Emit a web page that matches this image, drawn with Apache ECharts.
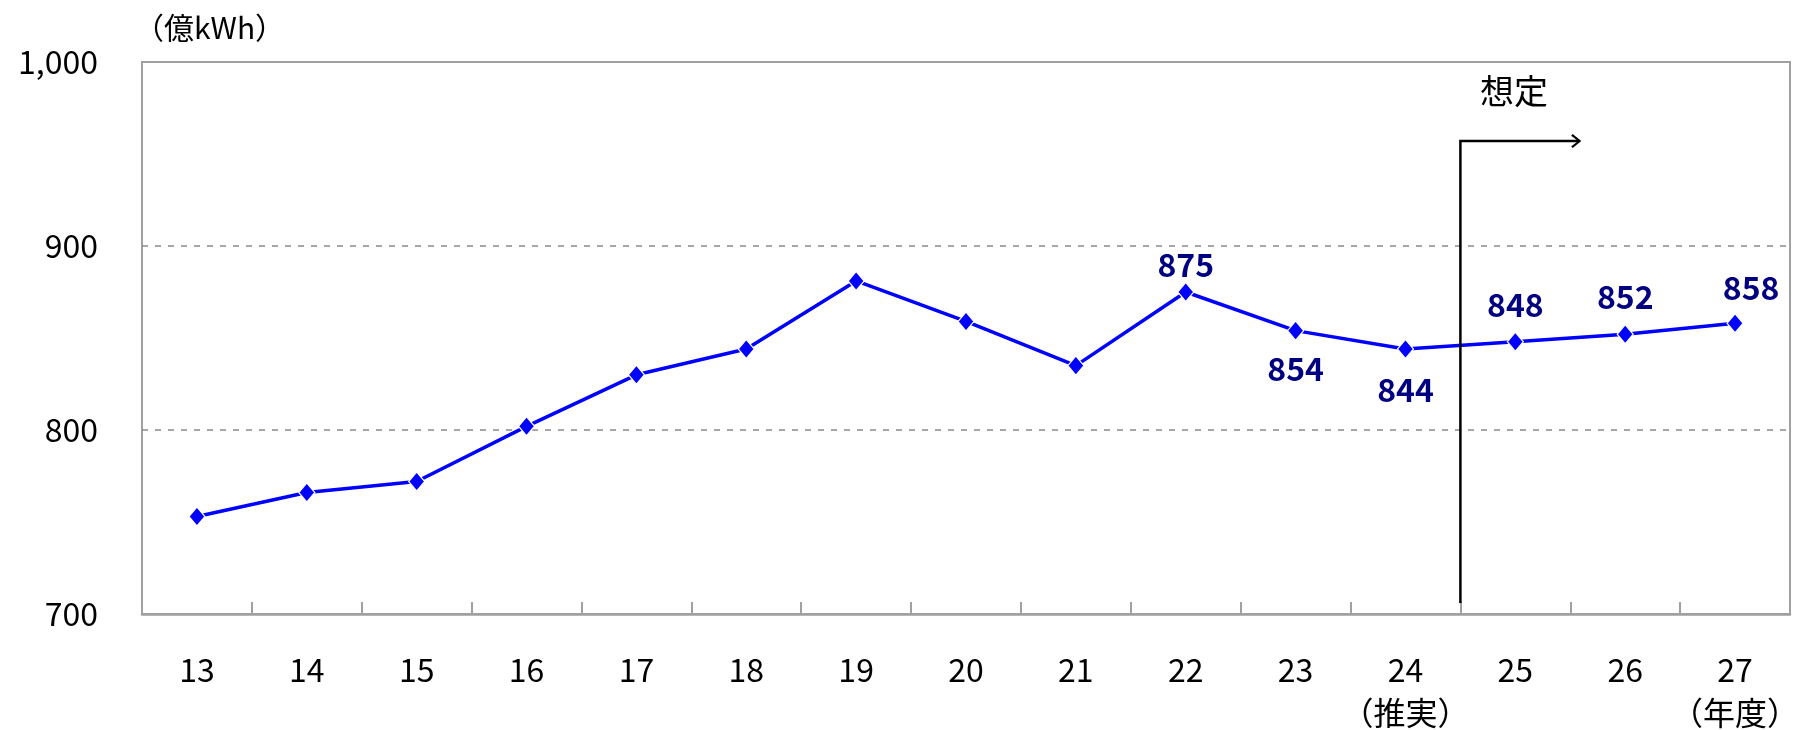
<!DOCTYPE html>
<html>
<head>
<meta charset="utf-8">
<script src="https://cdn.jsdelivr.net/npm/echarts@6/dist/echarts.min.js"></script>
<style>
  html, body { margin: 0; padding: 0; background: #fff; }
  #main { width: 1798px; height: 730px; }
</style>
</head>
<body>
<div id="main"></div>
<script>
// 年度
var years = ['13', '14', '15', '16', '17', '18', '19', '20', '21', '22', '23', '24\n（推実）', '25', '26', '27\n（年度）'];
// 電力量（億kWh）
var demand = [753, 766, 772, 802, 830, 844, 881, 859, 835, 875, 854, 844, 848, 852, 858];
var yTicks = [700, 800, 900, 1000];
// 「想定」の矢印（値軸上の位置）
var arrowX = [12, 12, 13.09];
var arrowY = [706, 957, 957];

// 数値ラベルを表示する点: [index, position, distance, offsetX]
var labelled = [
    [9, 'top', 1, 0],
    [10, 'bottom', 12, 0],
    [11, 'bottom', 15, 0],
    [12, 'top', 11, 0],
    [13, 'top', 11, 0],
    [14, 'top', 9, 16]
];

var FONT = '"Noto Sans CJK JP", "Noto Sans", sans-serif';

var chart = echarts.init(document.getElementById('main'));

var lineData = demand.map(function (v, i) {
    var item = { value: v };
    labelled.forEach(function (l) {
        if (l[0] === i) {
            item.label = {
                show: true,
                position: l[1],
                distance: l[2],
                offset: [l[3], 0]
            };
        }
    });
    return item;
});

var arrowData = arrowX.map(function (x, i) { return [x, arrowY[i]]; });

chart.setOption({
    animation: false,
    grid: {
        left: 142,
        top: 62,
        right: 8,
        bottom: 116,
        outerBoundsMode: 'none',
        containLabel: false,
        show: true,
        borderColor: '#a0a0a0',
        borderWidth: 2
    },
    graphic: [
        {
            type: 'text',
            left: 134,
            top: 13,
            style: { text: '（億kWh）', fontSize: 30, fontFamily: FONT, fill: '#000' }
        },
        {
            type: 'text',
            left: 1480,
            top: 74,
            style: { text: '想定', fontSize: 34, fontFamily: FONT, fill: '#000' }
        }
    ],
    xAxis: [
        {
            type: 'category',
            data: years,
            boundaryGap: true,
            axisLine: { lineStyle: { color: '#a0a0a0', width: 2.5 } },
            axisTick: { show: true, inside: true, length: 12, interval: 0, lineStyle: { color: '#a0a0a0', width: 2 } },
            axisLabel: {
                interval: 0,
                margin: 34,
                color: '#000',
                fontSize: 32,
                lineHeight: 43,
                fontFamily: FONT
            },
            splitLine: { show: false }
        },
        {
            type: 'value',
            min: 0,
            max: 15,
            show: false
        }
    ],
    yAxis: {
        type: 'value',
        min: yTicks[0],
        max: yTicks[yTicks.length - 1],
        interval: 100,
        axisLine: { show: false },
        axisTick: { show: false },
        axisLabel: {
            margin: 44,
            color: '#000',
            fontSize: 32,
            fontFamily: FONT,
            formatter: function (v) { return v.toLocaleString('en-US'); }
        },
        splitLine: {
            show: true,
            showMinLine: false,
            showMaxLine: false,
            lineStyle: { color: '#8a8a8a', width: 1.5, type: [6, 7] }
        }
    },
    series: [
        {
            name: '電力量',
            type: 'line',
            data: lineData,
            symbol: 'diamond',
            symbolSize: [16, 19],
            lineStyle: { color: '#0000ff', width: 3.5 },
            itemStyle: { color: '#0000ff', borderColor: '#fff', borderWidth: 1.2 },
            label: {
                show: false,
                color: '#000080',
                fontSize: 32,
                fontWeight: 'bold',
                fontFamily: FONT
            },
            z: 3
        },
        {
            name: '想定',
            type: 'line',
            xAxisIndex: 1,
            data: arrowData,
            symbol: 'none',
            lineStyle: { color: '#000', width: 2.5, join: 'miter', cap: 'butt' },
            markPoint: {
                symbol: 'path://M0,1.6 L1.6,0 L10,7 L1.6,14 L0,12.4 L7,7 Z',
                symbolSize: [10, 14],
                symbolOffset: [-4, 0],
                itemStyle: { color: '#000' },
                label: { show: false },
                data: [{ coord: arrowData[arrowData.length - 1] }]
            },
            z: 4
        }
    ]
});
</script>
</body>
</html>
